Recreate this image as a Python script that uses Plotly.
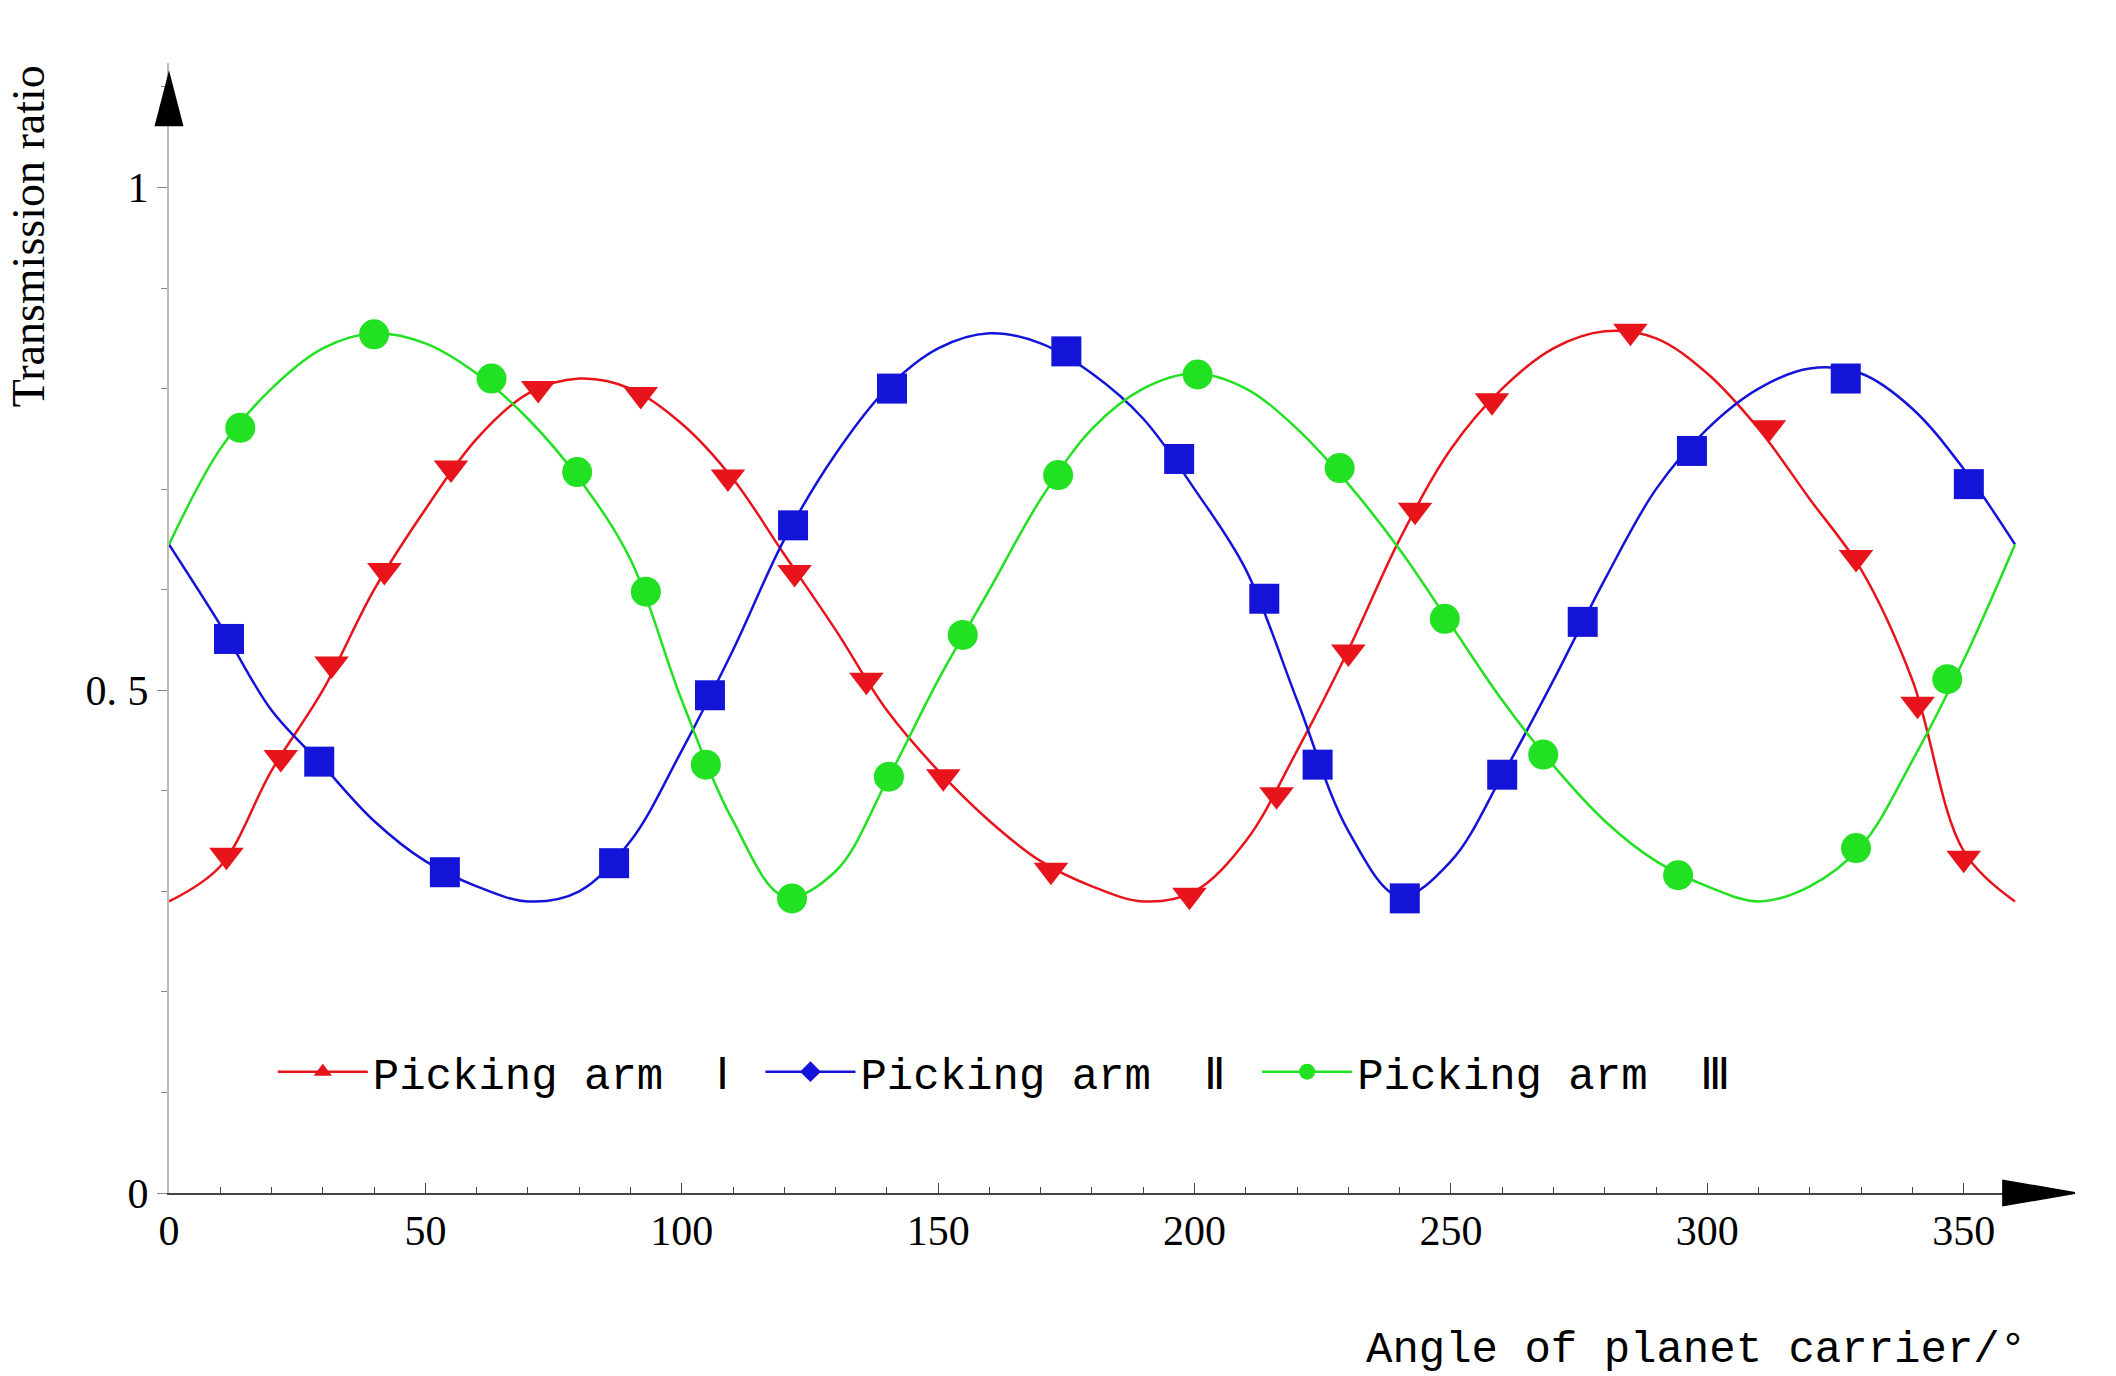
import plotly.graph_objects as go

angles = list(range(0, 361, 10))
arm1 = [0.29,0.325,0.42,0.50,0.60,0.68,0.75,0.795,0.81,0.80,0.765,0.71,0.635,0.56,0.48,0.42,0.37,0.33,0.305,0.29,0.30,0.35,0.44,0.54,0.65,0.74,0.80,0.84,0.857,0.85,0.815,0.76,0.69,0.62,0.51,0.34,0.29]
arm2 = [0.645,0.565,0.48,0.425,0.37,0.33,0.305,0.29,0.30,0.35,0.44,0.54,0.65,0.735,0.80,0.84,0.855,0.845,0.815,0.77,0.70,0.62,0.49,0.36,0.295,0.33,0.415,0.51,0.61,0.70,0.76,0.80,0.82,0.815,0.78,0.72,0.645]
arm3 = [0.645,0.74,0.80,0.84,0.855,0.845,0.815,0.77,0.71,0.63,0.49,0.37,0.295,0.32,0.41,0.51,0.60,0.69,0.76,0.80,0.815,0.80,0.76,0.705,0.64,0.565,0.49,0.425,0.37,0.33,0.305,0.29,0.305,0.345,0.43,0.53,0.645]

m1x = [11.2,21.8,31.7,42,55,72,92,109,122,136,151,172,199,216,230,243,258,285,312,329,341,350]
m1y = [0.336,0.433,0.526,0.619,0.721,0.80,0.794,0.712,0.617,0.51,0.414,0.321,0.296,0.396,0.538,0.679,0.788,0.857,0.761,0.632,0.486,0.333]
m2x = [11.7,29.3,53.8,86.8,105.5,121.7,141,175,197,213.6,224,241,260,275.7,297,327,351]
m2y = [0.551,0.429,0.319,0.328,0.495,0.664,0.80,0.837,0.730,0.591,0.426,0.293,0.416,0.568,0.738,0.81,0.705]
m3x = [13.9,40,62.9,79.6,93,104.7,121.5,140.4,154.8,173.4,200.6,228.3,248.8,268,294.3,329,346.8]
m3y = [0.761,0.854,0.81,0.717,0.598,0.426,0.293,0.414,0.555,0.714,0.814,0.721,0.571,0.436,0.316,0.343,0.511]

names = ["Picking arm  Ⅰ ", "Picking arm  Ⅱ ", "Picking arm  Ⅲ"]
colors = ["#e8141b", "#1414d8", "#22e022"]
symbols = ["triangle-down", "square", "circle"]
lsym = ["triangle-up", "diamond", "circle"]

fig = go.Figure()
for ys, mx, my, c, s, ls, n in zip([arm1, arm2, arm3], [m1x, m2x, m3x], [m1y, m2y, m3y], colors, symbols, lsym, names):
    fig.add_trace(go.Scatter(x=angles, y=ys, mode="lines", line=dict(color=c, width=2.5, shape="spline"), showlegend=False))
    fig.add_trace(go.Scatter(x=mx, y=my, mode="markers", marker=dict(color=c, symbol=s, size=30), showlegend=False))
    fig.add_trace(go.Scatter(x=[None], y=[None], mode="lines+markers", name=n,
                             line=dict(color=c, width=2.5), marker=dict(color=c, symbol=ls, size=34)))

font = dict(family="Liberation Serif, DejaVu Serif, serif", size=42, color="black")
fig.update_layout(
    width=2116, height=1376, plot_bgcolor="white", paper_bgcolor="white",
    margin=dict(l=161, r=68, t=55, b=191), font=font,
    xaxis=dict(range=[0, 368], tickvals=[0,50,100,150,200,250,300,350], showgrid=False, zeroline=False,
               showline=True, linecolor="#444", linewidth=2, ticks="inside", ticklen=10, tickcolor="#444",
               minor=dict(dtick=10, ticks="inside", ticklen=6, tickcolor="#444")),
    yaxis=dict(range=[0, 1.1238], tickvals=[0, 0.5, 1], ticktext=["0", "0. 5", "1"], showgrid=False, zeroline=False,
               showline=True, linecolor="#bbb", linewidth=2, ticks="outside", ticklen=10, tickcolor="#888",
               minor=dict(dtick=0.1, ticks="outside", ticklen=6, tickcolor="#888")),
    legend=dict(orientation="h", x=0.055, y=0.107, yanchor="middle", xanchor="left", bgcolor="rgba(0,0,0,0)",
                font=dict(family="Liberation Mono, DejaVu Sans Mono, monospace", size=44), itemwidth=90),
)
fig.add_shape(type="path", xref="paper", yref="paper", path="M -0.007 0.945 L 0.007 0.945 L 0 0.99 Z", fillcolor="black", line=dict(color="black"))
fig.add_shape(type="path", xref="paper", yref="paper", path="M 0.972 0.011 L 0.972 -0.011 L 1.01 0 Z", fillcolor="black", line=dict(color="black"))
fig.add_annotation(xref="paper", yref="paper", x=0.985, y=-0.115, text="Angle of planet carrier/°", showarrow=False,
                   xanchor="right", yanchor="top", font=dict(family="Liberation Mono, DejaVu Sans Mono, monospace", size=44))
fig.add_annotation(xref="paper", yref="paper", x=-0.06, y=1.0, text="Transmission ratio", showarrow=False, textangle=-90,
                   xanchor="right", yanchor="top", font=dict(family="Liberation Serif, DejaVu Serif, serif", size=46))
fig.write_html("out.html")
